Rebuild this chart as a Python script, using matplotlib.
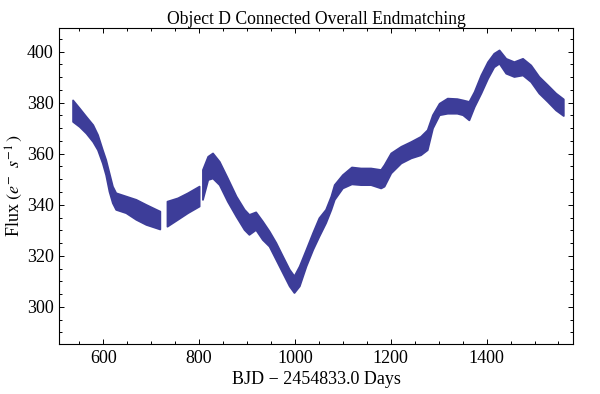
import numpy as np
import matplotlib
matplotlib.use("Agg")
import matplotlib.pyplot as plt
from matplotlib.ticker import MultipleLocator

# band of the light curve: time, upper edge, lower edge
time = [536, 550, 564, 578, 588, 598, 605, 612, 619, 626, 647, 668, 689, 710, 718,
        733, 755, 776, 800,
        807, 818, 828, 842, 859, 877, 894, 904, 918, 932, 946, 960, 974, 988, 998,
        1009, 1023, 1037, 1050, 1064, 1075, 1082, 1099, 1118, 1137, 1158, 1179, 1186,
        1200, 1221, 1242, 1262, 1276, 1287, 1301, 1318, 1338, 1350, 1363, 1374, 1388,
        1402, 1415, 1426, 1440, 1457, 1475, 1492, 1509, 1527, 1544, 1560]
flux_upper = [381.1, 377.9, 374.6, 371.4, 367.5, 361.6, 357.7, 352.5, 347.3, 344.7,
              343.4, 342.1, 340.1, 338.2, 337.5,
              341.4, 342.7, 344.7, 347.3,
              353.8, 359.0, 360.3, 357.0, 350.5, 343.4, 338.2, 336.2, 337.2, 333.6,
              329.7, 325.2, 319.9, 314.7, 312.1, 316.0, 322.5, 329.1, 334.9, 338.2,
              343.4, 347.9, 351.8, 354.8, 354.4, 354.4, 353.8, 355.7, 360.3, 362.9,
              364.8, 366.8, 369.4, 375.3, 379.8, 381.8, 381.6, 381.1, 380.5, 384.4,
              390.9, 396.1, 399.4, 400.7, 397.4, 396.1, 397.4, 394.8, 390.3, 387.0,
              383.8, 381.5]
flux_lower = [372.7, 370.7, 368.1, 364.8, 361.6, 356.4, 351.8, 345.3, 340.8, 338.2,
              336.9, 334.3, 332.3, 331.0, 330.5,
              331.6, 334.3, 336.9, 339.5,
              342.1, 349.9, 350.5, 347.9, 341.4, 335.5, 330.3, 328.4, 330.3, 326.4,
              323.8, 318.6, 313.4, 308.2, 305.6, 308.2, 316.0, 322.5, 327.7, 333.0,
              338.2, 342.1, 346.6, 348.2, 347.9, 347.9, 346.6, 347.3, 352.5, 356.4,
              358.4, 359.6, 361.6, 370.1, 375.3, 375.9, 375.9, 375.3, 373.3, 378.5,
              383.8, 389.6, 394.1, 395.5, 391.6, 390.3, 390.9, 388.3, 383.8, 380.5,
              377.2, 375.0]
# data gaps (start, end)
gaps = [(718, 733), (800, 807)]

color = "#3d3d99"

plt.rcParams["font.family"] = ["Liberation Serif", "DejaVu Serif"]
plt.rcParams["mathtext.fontset"] = "stix"

fig = plt.figure(figsize=(6.0, 3.94), dpi=100)
ax = fig.add_axes([0.0988, 0.1269, 0.8562, 0.802])

t = np.array(time)
up = np.array(flux_upper)
lo = np.array(flux_lower)

edges = [t.min()] + [v for g in gaps for v in g] + [t.max()]
for start, end in zip(edges[0::2], edges[1::2]):
    m = (t >= start) & (t <= end)
    ax.fill_between(t[m], lo[m], up[m], color=color, lw=1.3, edgecolor=color)

ax.set_xlim(508.2, 1580.3)
ax.set_ylim(285.4, 409.3)
ax.xaxis.set_major_locator(MultipleLocator(200))
ax.xaxis.set_minor_locator(MultipleLocator(50))
ax.yaxis.set_major_locator(MultipleLocator(20))
ax.yaxis.set_minor_locator(MultipleLocator(5))
ax.tick_params(which="both", direction="in", top=True, right=True,
               labelsize=13, width=0.7)
ax.tick_params(which="major", length=3.5, pad=4)
ax.tick_params(which="minor", length=2)
for s in ax.spines.values():
    s.set_linewidth(0.8)

ax.set_title("Object D Connected Overall Endmatching", fontsize=12.7, pad=3)
ax.set_xlabel("BJD \u2212 2454833.0 Days", fontsize=13, labelpad=3)
ax.set_ylabel(r"Flux $(e^{-}\;\;s^{-1}\,)$", fontsize=13, labelpad=1)

fig.savefig("out.png", dpi=100)
